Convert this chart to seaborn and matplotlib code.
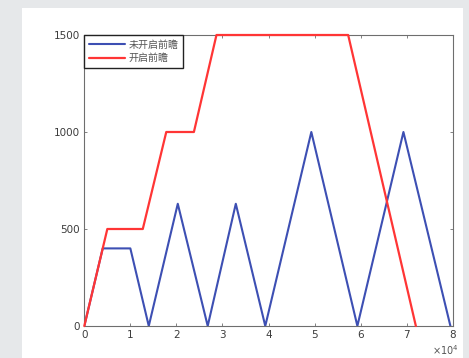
import matplotlib
matplotlib.use("Agg")
import matplotlib.pyplot as plt
import seaborn as sns
import pandas as pd
from matplotlib.patches import Rectangle

# Speed profiles (x in units of 10^4)
blue_x = [0, 0.4, 1.0, 1.4, 2.03, 2.68, 3.29, 3.93, 4.93, 5.93, 6.93, 7.95]
blue_y = [0, 400, 400, 0, 630, 0, 630, 0, 1000, 0, 1000, 0]
red_x = [0, 0.5, 1.27, 1.78, 2.38, 2.87, 5.73, 7.2]
red_y = [0, 500, 500, 1000, 1000, 1500, 1500, 0]
labels = ["未开启前瞻", "开启前瞻"]
x_ticks = [0, 1, 2, 3, 4, 5, 6, 7, 8]
y_ticks = [0, 500, 1000, 1500]

sns.set_style("white")
plt.rcParams["font.family"] = ["DejaVu Sans"]

fig = plt.figure(figsize=(4.69, 3.58), dpi=100)
fig.patch.set_facecolor("#e6e8ea")
W, H = 469, 358
fig.patches.append(Rectangle((22 / W, 0), (463 - 22) / W, 1 - 8 / H,
                             transform=fig.transFigure, facecolor="white",
                             edgecolor="none", zorder=-5))

ax = fig.add_axes([84.3 / W, 1 - 326 / H, (452.7 - 84.3) / W, (326 - 35) / H])
ax.set_facecolor("white")
ax.set_zorder(2)

df_b = pd.DataFrame({"x": blue_x, "y": blue_y})
df_r = pd.DataFrame({"x": red_x, "y": red_y})
sns.lineplot(data=df_b, x="x", y="y", sort=False, ax=ax, color="#3d4fb3",
             linewidth=1.5, label=labels[0], zorder=2)
sns.lineplot(data=df_r, x="x", y="y", sort=False, ax=ax, color="#ff3535",
             linewidth=1.6, label=labels[1], clip_on=False, zorder=3)

ax.set_xlim(0, 8)
ax.set_ylim(0, 1500)
ax.set_xticks(x_ticks)
ax.set_yticks(y_ticks)
ax.set_xlabel("")
ax.set_ylabel("")
for s in ax.spines.values():
    s.set_color("#6e6e6e")
    s.set_linewidth(0.8)
ax.tick_params(direction="in", length=2.5, width=0.6, color="#6e6e6e",
               labelsize=7.5, labelcolor="#3c3c3c", top=True, right=True,
               bottom=True, left=True, pad=3)

leg = ax.legend(loc="upper left", frameon=True, fancybox=False,
                edgecolor="#222222", framealpha=1, borderaxespad=0.0,
                handlelength=3.6, handletextpad=0.4, borderpad=0.45,
                labelspacing=0.35,
                prop={"family": ["Noto Sans CJK SC", "DejaVu Sans"], "size": 7.2})
leg.get_frame().set_linewidth(1.0)
leg.set_zorder(5)
for t in leg.get_texts():
    t.set_color("#555555")

fig.text(445 / W, 1 - 350 / H, r"$\times10^4$", fontsize=7, color="#555555",
         ha="center", va="center")

fig.savefig("out.png", dpi=100, facecolor=fig.get_facecolor())
